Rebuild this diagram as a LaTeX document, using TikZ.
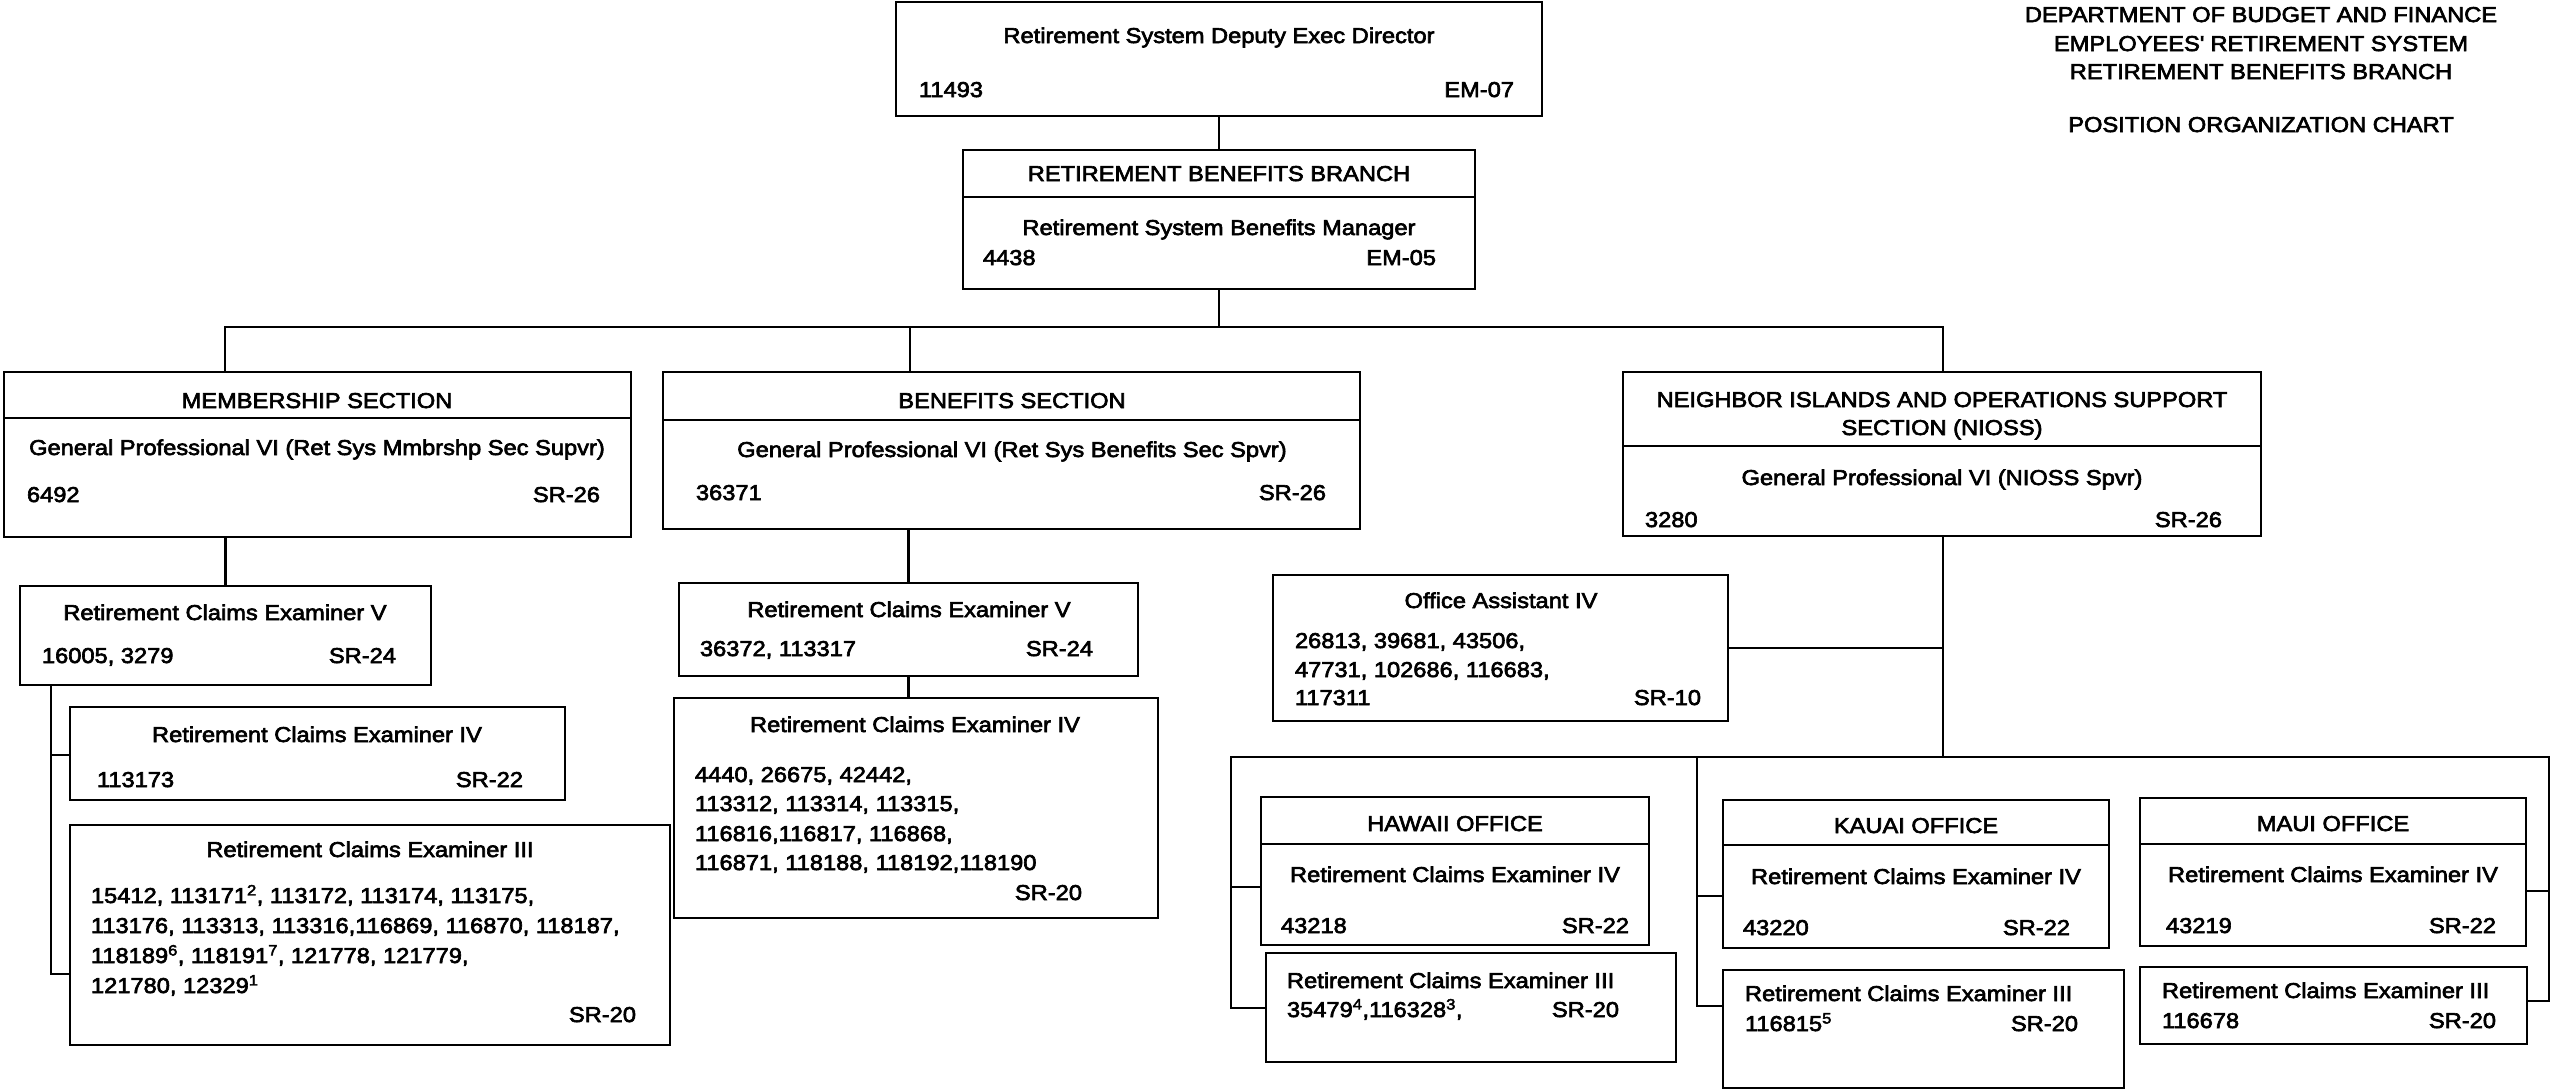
\documentclass[tikz,border=0pt]{standalone}
\usepackage{fontspec}
\setmainfont{Liberation Sans}[FakeStretch=1.1,FakeBold=3]
\newcommand\chartfont{\fontsize{21.5}{29.5}\selectfont}
\tikzset{
 bx/.style={draw, line width=2.5pt, inner sep=0pt, outer sep=0pt, anchor=north west},
 ln/.style={line width=2.5pt},
 tx/.style={inner sep=0pt, outer sep=0pt, font=\chartfont},
}
\newcommand\obox[5]{\node[bx,minimum width={#4-#2},minimum height={#5-#3}] (#1) at (#2,#3) {};}
\newcommand\odiv[2]{\coordinate (d#1) at (0,#2); \draw[ln] (#1.west |- d#1) -- (#1.east |- d#1);}
\newcommand\txL[4]{\node[tx,anchor=base west] (#1) at (#2,#3) {#4};}
\newcommand\txR[4]{\node[tx,anchor=base east] (#1) at (#2,#3) {#4};}
\newcommand\txC[4]{\node[tx,anchor=base] (#1) at (#2,#3) {#4};}
\begin{document}
\begin{tikzpicture}[x=1pt,y=-1pt]
\useasboundingbox (0,0) rectangle (2551,1092);
% header
\txC{hd1}{2261}{22}{DEPARTMENT OF BUDGET AND FINANCE}
\txC{hd2}{2261}{51}{EMPLOYEES\textquotesingle\ RETIREMENT SYSTEM}
\txC{hd3}{2261}{79}{RETIREMENT BENEFITS BRANCH}
\txC{hd4}{2261}{132}{POSITION ORGANIZATION CHART}
% top
\obox{top}{896}{2}{1542}{116}
\txC{topT}{1219}{43}{Retirement System Deputy Exec Director}
\txL{topN}{919}{97}{11493}
\txR{topG}{1514}{97}{EM-07}
% branch
\obox{br}{963}{150}{1475}{289}
\odiv{br}{197}
\txC{brH}{1219}{181}{RETIREMENT BENEFITS BRANCH}
\txC{brT}{1219}{235}{Retirement System Benefits Manager}
\txL{brN}{983}{265}{4438}
\txR{brG}{1436}{265}{EM-05}
% membership
\obox{mem}{4}{372}{631}{537}
\odiv{mem}{418}
\txC{memH}{317}{408}{MEMBERSHIP SECTION}
\txC{memT}{317}{455}{General Professional VI (Ret Sys Mmbrshp Sec Supvr)}
\txL{memN}{27}{502}{6492}
\txR{memG}{600}{502}{SR-26}
% benefits
\obox{ben}{663}{372}{1360}{529}
\odiv{ben}{420}
\txC{benH}{1012}{408}{BENEFITS SECTION}
\txC{benT}{1012}{457}{General Professional VI (Ret Sys Benefits Sec Spvr)}
\txL{benN}{696}{500}{36371}
\txR{benG}{1326}{500}{SR-26}
% nioss
\obox{nio}{1623}{372}{2261}{536}
\odiv{nio}{446}
\txC{nioH1}{1942}{407}{NEIGHBOR ISLANDS AND OPERATIONS SUPPORT}
\txC{nioH2}{1942}{435}{SECTION (NIOSS)}
\txC{nioT}{1942}{485}{General Professional VI (NIOSS Spvr)}
\txL{nioN}{1645}{527}{3280}
\txR{nioG}{2222}{527}{SR-26}
% membership examiners
\obox{mx5}{20}{586}{431}{685}
\txC{mx5T}{225}{620}{Retirement Claims Examiner V}
\txL{mx5N}{42}{663}{16005, 3279}
\txR{mx5G}{396}{663}{SR-24}
\obox{mx4}{70}{707}{565}{800}
\txC{mx4T}{317}{742}{Retirement Claims Examiner IV}
\txL{mx4N}{97}{787}{113173}
\txR{mx4G}{523}{787}{SR-22}
\obox{mx3}{70}{825}{670}{1045}
\txC{mx3T}{370}{857}{Retirement Claims Examiner III}
\txL{mx3a}{91}{903}{15412, 113171\textsuperscript{2}, 113172, 113174, 113175,}
\txL{mx3b}{91}{933}{113176, 113313, 113316,116869, 116870, 118187,}
\txL{mx3c}{91}{963}{118189\textsuperscript{6}, 118191\textsuperscript{7}, 121778, 121779,}
\txL{mx3d}{91}{993}{121780, 12329\textsuperscript{1}}
\txR{mx3G}{636}{1022}{SR-20}
% benefits examiners
\obox{bex5}{679}{583}{1138}{676}
\txC{bex5T}{909}{617}{Retirement Claims Examiner V}
\txL{bex5N}{700}{656}{36372, 113317}
\txR{bex5G}{1093}{656}{SR-24}
\obox{bex4}{674}{698}{1158}{918}
\txC{bex4T}{915}{732}{Retirement Claims Examiner IV}
\txL{bex4a}{695}{782}{4440, 26675, 42442,}
\txL{bex4b}{695}{811}{113312, 113314, 113315,}
\txL{bex4c}{695}{841}{116816,116817, 116868,}
\txL{bex4d}{695}{870}{116871, 118188, 118192,118190}
\txR{bex4G}{1082}{900}{SR-20}
% office assistant
\obox{oa}{1273}{575}{1728}{721}
\txC{oaT}{1501}{608}{Office Assistant IV}
\txL{oaa}{1295}{648}{26813, 39681, 43506,}
\txL{oab}{1295}{677}{47731, 102686, 116683,}
\txL{oac}{1295}{705}{117311}
\txR{oaG}{1701}{705}{SR-10}
% hawaii
\obox{haw}{1261}{797}{1649}{945}
\odiv{haw}{844}
\txC{hawH}{1455}{831}{HAWAII OFFICE}
\txC{hawT}{1455}{882}{Retirement Claims Examiner IV}
\txL{hawN}{1281}{933}{43218}
\txR{hawG}{1629}{933}{SR-22}
\obox{hx3}{1266}{953}{1676}{1062}
\txL{hx3T}{1287}{988}{Retirement Claims Examiner III}
\txL{hx3N}{1287}{1017}{35479\textsuperscript{4},116328\textsuperscript{3},}
\txR{hx3G}{1619}{1017}{SR-20}
% kauai
\obox{kau}{1723}{800}{2109}{948}
\odiv{kau}{845}
\txC{kauH}{1916}{833}{KAUAI OFFICE}
\txC{kauT}{1916}{884}{Retirement Claims Examiner IV}
\txL{kauN}{1743}{935}{43220}
\txR{kauG}{2070}{935}{SR-22}
\obox{kx3}{1723}{970}{2124}{1088}
\txL{kx3T}{1745}{1001}{Retirement Claims Examiner III}
\txL{kx3N}{1745}{1031}{116815\textsuperscript{5}}
\txR{kx3G}{2078}{1031}{SR-20}
% maui
\obox{mau}{2140}{798}{2526}{946}
\odiv{mau}{844}
\txC{mauH}{2333}{831}{MAUI OFFICE}
\txC{mauT}{2333}{882}{Retirement Claims Examiner IV}
\txL{mauN}{2166}{933}{43219}
\txR{mauG}{2496}{933}{SR-22}
\obox{ux3}{2140}{967}{2527}{1044}
\txL{ux3T}{2162}{998}{Retirement Claims Examiner III}
\txL{ux3N}{2162}{1028}{116678}
\txR{ux3G}{2496}{1028}{SR-20}
% connectors
\draw[ln] (top.south) -- (br.north);
\coordinate (hL) at (225,327);
\coordinate (hM) at (1219,327);
\coordinate (hB) at (910,327);
\coordinate (hR) at (1943,327);
\draw[ln] (br.south) -- (hM);
\draw[ln] (hL |- mem.north) -- (hL) -- (hR) -- (hR |- nio.north);
\draw[ln] (hB) -- (hB |- ben.north);
\draw[ln] (mx5.north |- mem.south) -- (mx5.north);
\coordinate (mb1) at (51,755);
\coordinate (mb2) at (51,974);
\draw[ln] (mb1 |- mx5.south) -- (mb2) -- (mb2 -| mx3.west);
\draw[ln] (mb1) -- (mb1 -| mx4.west);
\draw[ln] (bex5.north |- ben.south) -- (bex5.north);
\draw[ln] (bex5.south) -- (bex5.south |- bex4.north);
\coordinate (oj) at (1943,757);
\draw[ln] (oj |- nio.south) -- (oj);
\draw[ln] (oa.east) -- (oa.east -| oj);
\coordinate (ohL) at (1231,757);
\coordinate (ohR) at (2549,757);
\coordinate (hb1) at (1231,887);
\coordinate (hb2) at (1231,1008);
\coordinate (ub1) at (2549,891);
\coordinate (ub2) at (2549,1001);
\draw[ln] (hb2 -| hx3.west) -- (hb2) -- (ohL) -- (ohR) -- (ub2) -- (ub2 -| ux3.east);
\draw[ln] (hb1) -- (hb1 -| haw.west);
\draw[ln] (ub1) -- (ub1 -| mau.east);
\coordinate (kT) at (1697,757);
\coordinate (kb1) at (1697,896);
\coordinate (kb2) at (1697,1006);
\draw[ln] (kT) -- (kb2) -- (kb2 -| kx3.west);
\draw[ln] (kb1) -- (kb1 -| kau.west);
\end{tikzpicture}
\end{document}
